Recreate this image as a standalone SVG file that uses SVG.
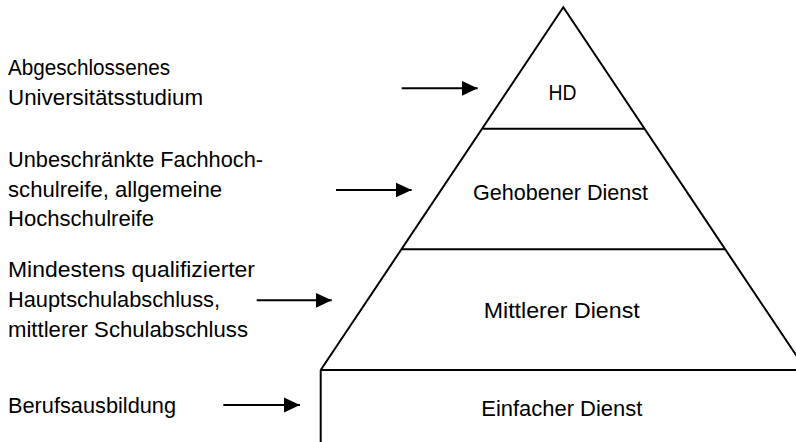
<svg xmlns="http://www.w3.org/2000/svg" width="796" height="442" viewBox="0 0 796 442">
<defs>
<style>
text{font-family:"Liberation Sans",Arial,sans-serif;font-size:22px;fill:#000}
.lbl{text-anchor:start}
.tier{text-anchor:middle}
.edge{stroke:#000;stroke-width:2;fill:none;stroke-linejoin:miter}
.sep{stroke:#000;stroke-width:2;fill:none}
.arr{stroke:#000;stroke-width:2;fill:none;marker-end:url(#ah)}
</style>
<marker id="ah" markerUnits="userSpaceOnUse" markerWidth="16" markerHeight="16" refX="16" refY="8" orient="auto">
<path d="M0,0.5 L16,8 L0,15.5 z" fill="#000"/>
</marker>
</defs>
<rect width="796" height="442" fill="#fff"/>
<g id="pyramid">
<path class="edge" d="M320.7,370 L563.3,7.3 L806,370"/>
<line class="sep" x1="482.4" y1="128.7" x2="644.2" y2="128.7"/>
<line class="sep" x1="401.6" y1="249.3" x2="725" y2="249.3"/>
<line class="sep" x1="320.7" y1="370" x2="806" y2="370"/>
<line class="sep" x1="320.7" y1="370" x2="320.7" y2="442"/>
</g>
<g id="tier-hd"><text class="tier" x="562.5" y="100" textLength="28" lengthAdjust="spacingAndGlyphs">HD</text></g>
<g id="tier-gehobener"><text class="tier" x="560.5" y="200" textLength="175" lengthAdjust="spacingAndGlyphs">Gehobener Dienst</text></g>
<g id="tier-mittlerer"><text class="tier" x="561.7" y="318" textLength="156" lengthAdjust="spacingAndGlyphs">Mittlerer Dienst</text></g>
<g id="tier-einfacher"><text class="tier" x="561.8" y="416" textLength="161" lengthAdjust="spacingAndGlyphs">Einfacher Dienst</text></g>
<g id="label-uni">
<text class="lbl" x="8" y="75" textLength="162" lengthAdjust="spacingAndGlyphs">Abgeschlossenes</text>
<text class="lbl" x="8" y="104.5" textLength="195" lengthAdjust="spacingAndGlyphs">Universitätsstudium</text>
</g>
<g id="label-fh">
<text class="lbl" x="8" y="167.3" textLength="255" lengthAdjust="spacingAndGlyphs">Unbeschränkte Fachhoch-</text>
<text class="lbl" x="8" y="196.7" textLength="214" lengthAdjust="spacingAndGlyphs">schulreife, allgemeine</text>
<text class="lbl" x="8" y="226" textLength="146" lengthAdjust="spacingAndGlyphs">Hochschulreife</text>
</g>
<g id="label-hs">
<text class="lbl" x="8" y="276.7" textLength="247" lengthAdjust="spacingAndGlyphs">Mindestens qualifizierter</text>
<text class="lbl" x="8" y="306.5" textLength="212" lengthAdjust="spacingAndGlyphs">Hauptschulabschluss,</text>
<text class="lbl" x="8" y="336.5" textLength="240" lengthAdjust="spacingAndGlyphs">mittlerer Schulabschluss</text>
</g>
<g id="label-beruf">
<text class="lbl" x="8" y="413" textLength="168" lengthAdjust="spacingAndGlyphs">Berufsausbildung</text>
</g>
<g id="connectors">
<line class="arr" x1="401.7" y1="88.3" x2="477.7" y2="88.3"/>
<line class="arr" x1="336" y1="190" x2="411.7" y2="190"/>
<line class="arr" x1="256.7" y1="300.3" x2="331.7" y2="300.3"/>
<line class="arr" x1="223.3" y1="405" x2="300" y2="405"/>
</g>
</svg>
